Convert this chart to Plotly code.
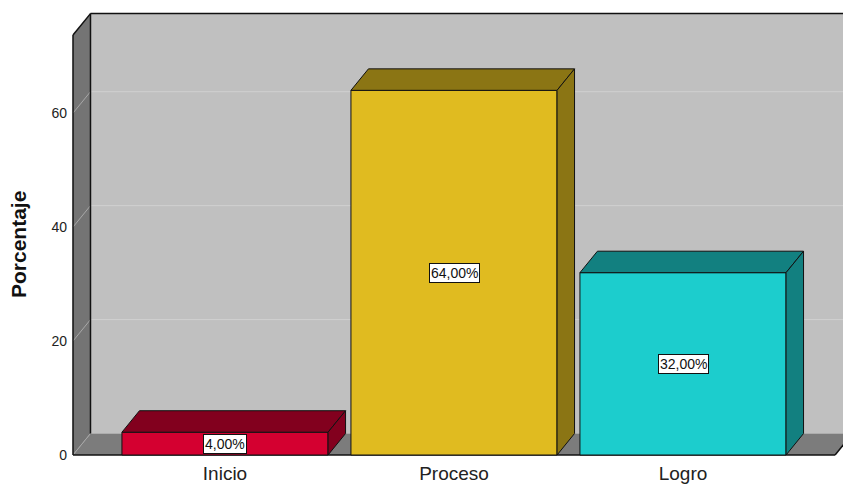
import plotly.graph_objects as go

# ---- data ----
categories = ["Inicio", "Proceso", "Logro"]
values = [4.0, 64.0, 32.0]
value_labels = ["4,00%", "64,00%", "32,00%"]
front_colors = ["#D40030", "#E0BB20", "#1CCDCD"]
shade_colors = ["#82001E", "#8B7514", "#128080"]
y_ticks = [0, 20, 40, 60]
y_title = "Porcentaje"

# ---- geometry (axis units) ----
xpos = list(range(len(categories)))
BAR_W = 0.9
X_MIN, X_MAX = -0.6856, 2.6987   # visible x range
XF = -0.6638                      # front edge of left wall
FLOOR_END = 2.664                 # front right end of the floor
Y_MIN, Y_MAX = -0.877, 77.75
WALL_TOP = 73.7                   # front top of left wall
DX, DY = 0.0764, 3.77             # depth offset

FONT = "Liberation Sans, Arial, sans-serif"

fig = go.Figure()

# front faces
fig.add_trace(go.Bar(
    x=xpos, y=values, width=BAR_W,
    marker=dict(color=front_colors, line=dict(color="#111111", width=1)),
    hoverinfo="skip", showlegend=False,
))

# top + side faces
for xc, v, sc in zip(xpos, values, shade_colors):
    l, r = xc - BAR_W / 2, xc + BAR_W / 2
    fig.add_trace(go.Scatter(
        x=[l, r, r + DX, l + DX, l], y=[v, v, v + DY, v + DY, v],
        mode="lines", fill="toself", fillcolor=sc,
        line=dict(color="#111111", width=1), hoverinfo="skip", showlegend=False,
    ))
    fig.add_trace(go.Scatter(
        x=[r, r + DX, r + DX, r, r], y=[0, DY, v + DY, v, 0],
        mode="lines", fill="toself", fillcolor=sc,
        line=dict(color="#111111", width=1), hoverinfo="skip", showlegend=False,
    ))

shapes = []
# back wall
shapes.append(dict(type="rect", xref="x", yref="y", layer="below",
                   x0=XF + DX, x1=X_MAX + 1, y0=DY, y1=WALL_TOP + DY,
                   fillcolor="#C0C0C0", line=dict(width=0)))
# left wall
shapes.append(dict(type="path", xref="x", yref="y", layer="below",
                   path=f"M {XF},0 L {XF+DX},{DY} L {XF+DX},{WALL_TOP+DY} L {XF},{WALL_TOP} Z",
                   fillcolor="#747474", line=dict(width=0)))
# floor
shapes.append(dict(type="path", xref="x", yref="y", layer="below",
                   path=f"M {XF},0 L {FLOOR_END},0 L {FLOOR_END+DX},{DY} L {XF+DX},{DY} Z",
                   fillcolor="#7C7C7C", line=dict(width=0)))
# gridlines
for t in y_ticks:
    if t > 0:
        shapes.append(dict(type="line", xref="x", yref="y", layer="below",
                           x0=XF + DX, x1=X_MAX + 1, y0=t + DY, y1=t + DY,
                           line=dict(color="#D0D0D0", width=1)))
    shapes.append(dict(type="line", xref="x", yref="y", layer="below",
                       x0=XF, x1=XF + DX, y0=t, y1=t + DY,
                       line=dict(color="#A8A8A8", width=1)))
# black edges
edge = dict(color="#111111", width=1.5)
shapes += [
    dict(type="line", xref="x", yref="y", layer="below", x0=XF + DX, x1=XF + DX, y0=DY, y1=WALL_TOP + DY, line=edge),
    dict(type="line", xref="x", yref="y", layer="below", x0=XF + DX, x1=X_MAX + 1, y0=WALL_TOP + DY, y1=WALL_TOP + DY, line=edge),
    dict(type="line", xref="x", yref="y", layer="below", x0=XF, x1=XF + DX, y0=WALL_TOP, y1=WALL_TOP + DY, line=edge),
    dict(type="line", xref="x", yref="y", layer="below", x0=XF, x1=XF, y0=0, y1=WALL_TOP, line=edge),
    dict(type="line", xref="x", yref="y", layer="below", x0=XF, x1=FLOOR_END, y0=0, y1=0, line=edge),
    dict(type="line", xref="x", yref="y", layer="below", x0=FLOOR_END, x1=FLOOR_END + DX, y0=0, y1=DY, line=edge),
]

annotations = []
for xc, v, lab in zip(xpos, values, value_labels):
    annotations.append(dict(x=xc, y=v / 2, xref="x", yref="y", text=lab, showarrow=False,
                            bgcolor="white", bordercolor="#111111", borderwidth=1, borderpad=1,
                            font=dict(family=FONT, size=14, color="#111111")))
annotations.append(dict(x=-(68 - 19) / 775, y=(460 - 244) / 448, xref="paper", yref="paper",
                        xanchor="center", yanchor="middle",
                        text=f"<b>{y_title}</b>", textangle=-90, showarrow=False,
                        font=dict(family=FONT, size=21, color="#111111")))

fig.update_layout(
    width=843, height=486,
    margin=dict(l=68, r=0, t=12, b=26),
    paper_bgcolor="white", plot_bgcolor="white",
    shapes=shapes, annotations=annotations, showlegend=False,
    xaxis=dict(range=[X_MIN, X_MAX], tickvals=xpos, ticktext=categories,
               showgrid=False, zeroline=False, showline=False, ticks="",
               tickfont=dict(family=FONT, size=19, color="#222222")),
    yaxis=dict(range=[Y_MIN, Y_MAX], tickvals=y_ticks,
               showgrid=False, zeroline=False, showline=False, ticks="",
               tickfont=dict(family=FONT, size=14, color="#222222")),
)

fig.write_html("out.html")
